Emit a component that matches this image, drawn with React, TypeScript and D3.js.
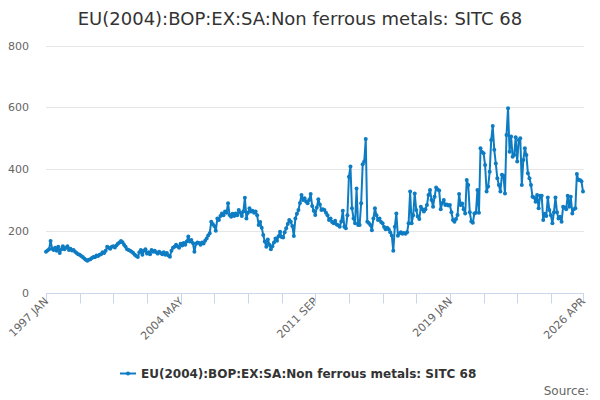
import { useRef, useEffect } from 'react';
import * as d3 from 'd3';

const title = 'EU(2004):BOP:EX:SA:Non ferrous metals: SITC 68';
const seriesName = 'EU(2004):BOP:EX:SA:Non ferrous metals: SITC 68';
const startYear = 1997;
const monthNames = ['JAN', 'FEB', 'MAR', 'APR', 'MAY', 'JUN', 'JUL', 'AUG', 'SEP', 'OCT', 'NOV', 'DEC'];
const yTicks = [0, 200, 400, 600, 800];
const labelledMonths = [0, 88, 176, 264, 351];

// monthly values, 1997 JAN .. 2026 APR
const values = [
  132, 136, 140, 167, 142, 138, 145, 135, 148, 128, 140, 150, // 1997
  140, 145, 150, 138, 142, 136, 138, 132, 128, 124, 122, 118, // 1998
  115, 110, 106, 103, 106, 108, 112, 115, 114, 120, 118, 122, // 1999
  124, 130, 128, 135, 148, 145, 142, 148, 150, 146, 152, 158, // 2000
  162, 167, 163, 155, 148, 140, 138, 135, 132, 128, 122, 118, // 2001
  115, 130, 138, 122, 135, 140, 126, 130, 124, 138, 132, 135, // 2002
  130, 126, 132, 128, 124, 130, 122, 128, 120, 116, 135, 145, // 2003
  148, 155, 150, 145, 158, 152, 160, 155, 165, 181, 165, 170, // 2004
  160, 132, 158, 162, 160, 155, 162, 159, 168, 175, 185, 192, // 2005
  229, 222, 215, 200, 240, 235, 248, 256, 250, 262, 258, 289, // 2006
  251, 245, 255, 248, 256, 250, 267, 258, 248, 262, 307, 240, // 2007
  258, 273, 262, 265, 258, 262, 250, 219, 228, 210, 186, 165, // 2008
  148, 172, 155, 140, 150, 162, 175, 168, 182, 197, 180, 178, // 2009
  195, 208, 222, 235, 229, 215, 183, 240, 255, 267, 290, 316, // 2010
  300, 305, 295, 289, 300, 319, 280, 265, 251, 275, 302, 285, // 2011
  267, 270, 267, 258, 250, 235, 240, 228, 224, 232, 220, 218, // 2012
  213, 230, 265, 213, 208, 250, 375, 408, 273, 240, 224, 337, // 2013
  219, 219, 289, 415, 424, 497, 229, 225, 219, 202, 240, 273, // 2014
  250, 235, 240, 228, 224, 212, 205, 210, 205, 195, 185, 135, // 2015
  213, 256, 184, 192, 195, 190, 193, 190, 195, 224, 327, 224, // 2016
  250, 321, 267, 246, 238, 278, 270, 262, 270, 283, 316, 332, // 2017
  300, 278, 310, 340, 334, 330, 270, 290, 300, 283, 285, 282, // 2018
  283, 260, 235, 229, 238, 251, 319, 283, 288, 270, 256, 364, // 2019
  348, 260, 230, 226, 256, 258, 332, 258, 467, 455, 451, 413, // 2020
  327, 343, 391, 494, 539, 462, 418, 370, 348, 327, 381, 378, // 2021
  321, 510, 597, 456, 505, 440, 445, 503, 424, 494, 500, 348, // 2022
  429, 467, 445, 386, 370, 348, 310, 308, 294, 316, 273, 313, // 2023
  313, 235, 255, 248, 308, 267, 250, 224, 260, 308, 260, 240, // 2024
  245, 229, 278, 275, 270, 313, 278, 310, 256, 270, 273, 384, // 2025
  364, 364, 360, 327, // 2026
];

const monthLabel = (i: number) =>
  `${startYear + Math.floor(i / 12)} ${monthNames[i % 12]}`;

export default function App() {
  const svgRef = useRef<SVGSVGElement>(null);

  useEffect(() => {
    if (!svgRef.current) return;
    const svg = d3.select(svgRef.current);
    svg.selectAll('*').remove();

    const width = 600;
    const height = 400;
    const font = '"DejaVu Sans", sans-serif';
    const lineColor = '#0e7cc3';
    const n = values.length;

    svg.attr('width', width).attr('height', height);

    const x = d3.scaleLinear().domain([0, n - 1]).range([46, 583]);
    const y = d3.scaleLinear().domain([0, 800]).range([292.5, 45.5]);

    // Title
    svg.append('text')
      .attr('x', width / 2)
      .attr('y', 25)
      .attr('text-anchor', 'middle')
      .attr('font-family', font)
      .attr('font-size', '18px')
      .attr('fill', '#333333')
      .text(title);

    // Grid lines
    svg.append('g')
      .selectAll('line')
      .data(yTicks.filter((t) => t > 0))
      .enter()
      .append('line')
      .attr('x1', 46)
      .attr('x2', 584)
      .attr('y1', (d) => Math.round(y(d)) + 0.5)
      .attr('y2', (d) => Math.round(y(d)) + 0.5)
      .attr('stroke', '#e6e6e6');

    // Y labels
    svg.append('g')
      .selectAll('text')
      .data(yTicks)
      .enter()
      .append('text')
      .attr('x', 29)
      .attr('y', (d) => y(d) + 4)
      .attr('text-anchor', 'end')
      .attr('font-family', font)
      .attr('font-size', '11px')
      .attr('fill', '#666666')
      .text((d) => d);

    // X axis line and ticks
    const axisY = Math.round(y(0)) + 0.5;
    svg.append('line')
      .attr('x1', 46)
      .attr('x2', 584)
      .attr('y1', axisY)
      .attr('y2', axisY)
      .attr('stroke', '#ccd6eb');

    const tickIdx = d3.range(0, n - 1, 22).concat([n - 1]);
    svg.append('g')
      .selectAll('line')
      .data(tickIdx)
      .enter()
      .append('line')
      .attr('x1', (d) => Math.round(x(d)) + 0.5)
      .attr('x2', (d) => Math.round(x(d)) + 0.5)
      .attr('y1', axisY)
      .attr('y2', axisY + 10)
      .attr('stroke', '#ccd6eb');

    // X labels (rotated)
    svg.append('g')
      .selectAll('text')
      .data(labelledMonths)
      .enter()
      .append('text')
      .attr('transform', (d) => `translate(${x(d) + 3},${302}) rotate(-45)`)
      .attr('text-anchor', 'end')
      .attr('font-family', font)
      .attr('font-size', '11px')
      .attr('fill', '#666666')
      .text((d) => monthLabel(d));

    // Series line
    const line = d3
      .line<number>()
      .x((_, i) => x(i))
      .y((d) => y(d));

    svg.append('path')
      .datum(values)
      .attr('d', line)
      .attr('fill', 'none')
      .attr('stroke', lineColor)
      .attr('stroke-width', 2)
      .attr('stroke-linejoin', 'round');

    svg.append('g')
      .selectAll('circle')
      .data(values)
      .enter()
      .append('circle')
      .attr('cx', (_, i) => x(i))
      .attr('cy', (d) => y(d))
      .attr('r', 2)
      .attr('fill', lineColor);

    // Legend
    const legend = svg.append('g');
    legend.append('line')
      .attr('x1', 120)
      .attr('x2', 136)
      .attr('y1', 373.5)
      .attr('y2', 373.5)
      .attr('stroke', lineColor)
      .attr('stroke-width', 2);
    legend.append('circle')
      .attr('cx', 128)
      .attr('cy', 373.5)
      .attr('r', 2)
      .attr('fill', lineColor);
    legend.append('text')
      .attr('x', 141)
      .attr('y', 378)
      .attr('font-family', font)
      .attr('font-size', '12px')
      .attr('font-weight', 'bold')
      .attr('fill', '#333333')
      .text(seriesName);

    // Source
    svg.append('text')
      .attr('x', 589)
      .attr('y', 395)
      .attr('text-anchor', 'end')
      .attr('font-family', font)
      .attr('font-size', '12px')
      .attr('fill', '#666666')
      .text('Source:');
  }, []);

  return (
    <svg
      ref={svgRef}
      style={{ position: 'absolute', left: 0, top: 0, display: 'block' }}
    />
  );
}
